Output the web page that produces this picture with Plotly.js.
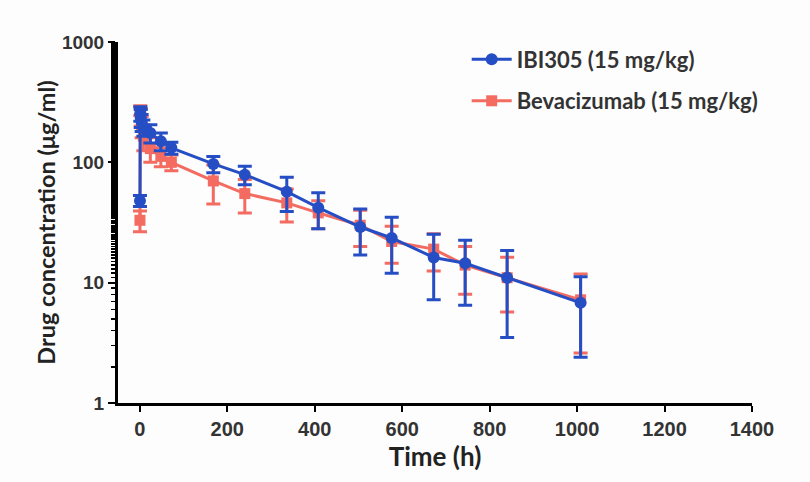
<!DOCTYPE html>
<html>
<head>
<meta charset="utf-8">
<script src="https://cdn.plot.ly/plotly-3.0.1.min.js"></script>
<style>html,body{margin:0;padding:0;background:#fdfdfd;}#chart{width:810px;height:482px;}</style>
</head>
<body>
<div id="chart"></div>
<script>
const timeH = [0.25, 1, 2, 4, 8, 24, 48, 72, 168, 240, 336, 408, 504, 576, 672, 744, 840, 1008];
const ibi305Mean = [48, 255, 235, 215, 195, 175, 150, 132, 97, 79, 57, 42, 29, 23.5, 16.2, 14.5, 11, 6.8];
const ibi305SD   = [5, 35, 40, 35, 30, 30, 25, 15, 15, 14, 18, 14, 12, 11.5, 9, 8, 7.5, 4.4];
const bevaMean = [33, 270, 240, 200, 165, 130, 112, 100, 70, 55, 46, 38, 30, 22, 19, 14, 11, 7.2];
const bevaSD   = [6.5, 25, 40, 40, 40, 30, 20, 15, 25, 17, 14, 10, 10, 7.5, 6.5, 6, 5.3, 4.6];
const seriesNames = ["IBI305 (15 mg/kg)", "Bevacizumab (15 mg/kg)"];
const xTicks = [0, 200, 400, 600, 800, 1000, 1200, 1400];
const yTicks = [1, 10, 100, 1000];

const blue = "rgb(38,78,196)";
const red = "rgb(242,88,76)";

const traces = [
  {
    x: timeH, y: bevaMean, name: seriesNames[1], type: "scatter", mode: "lines+markers",
    line: {color: red, width: 3},
    marker: {symbol: "square", size: 11, color: red},
    error_y: {type: "data", array: bevaSD, visible: true, color: red, thickness: 3, width: 7},
    legendrank: 2, legendgroup: "b", opacity: 0.88
  },
  {
    x: timeH, y: ibi305Mean, name: seriesNames[0], type: "scatter", mode: "lines+markers",
    line: {color: blue, width: 3},
    marker: {symbol: "circle", size: 12, color: blue},
    error_y: {type: "data", array: ibi305SD, visible: true, color: blue, thickness: 3, width: 7},
    legendrank: 1, legendgroup: "a"
  }
];

const xTickFont = {family: "Liberation Sans, Arial, sans-serif", size: 20, color: "#333", weight: "bold"};
const yTickFont = {family: "Liberation Sans, Arial, sans-serif", size: 19, color: "#333", weight: "bold"};

const layout = {
  width: 810, height: 482,
  paper_bgcolor: "#fdfdfd", plot_bgcolor: "#fdfdfd",
  margin: {l: 118, r: 58, t: 42, b: 79},
  showlegend: true,
  legend: {
    x: 0.55, y: 1.01, xanchor: "left", yanchor: "top",
    bgcolor: "rgba(0,0,0,0)",
    font: {family: "Lato, Open Sans, sans-serif", size: 22, color: "#333", weight: "bold"},
    tracegroupgap: 10, itemwidth: 40
  },
  xaxis: {
    range: [-50, 1400], tickvals: xTicks, ticktext: xTicks.map(String),
    showgrid: false, zeroline: false, showline: true, linecolor: "#000", linewidth: 3,
    ticks: "outside", ticklen: 6, tickwidth: 2, tickcolor: "#000",
    tickfont: xTickFont,
    title: {text: "Time (h)", font: {family: "Lato, Open Sans, sans-serif", size: 26, color: "#222", weight: "bold"}, standoff: 0}
  },
  yaxis: {
    type: "log", range: [0, 3], tickvals: yTicks, ticktext: yTicks.map(String),
    showgrid: false, zeroline: false, showline: true, linecolor: "#000", linewidth: 3,
    ticks: "outside", ticklen: 7, tickwidth: 2, tickcolor: "#000",
    minor: {ticks: "outside", ticklen: 4, tickwidth: 1.5, tickcolor: "#000", showgrid: false},
    tickfont: yTickFont,
    title: {text: "Drug concentration (μg/ml)", font: {family: "Lato, Open Sans, sans-serif", size: 23.5, color: "#222", weight: "bold"}, standoff: 0}
  }
};

Plotly.newPlot("chart", traces, layout, {displayModeBar: false, staticPlot: true});
</script>
</body>
</html>
